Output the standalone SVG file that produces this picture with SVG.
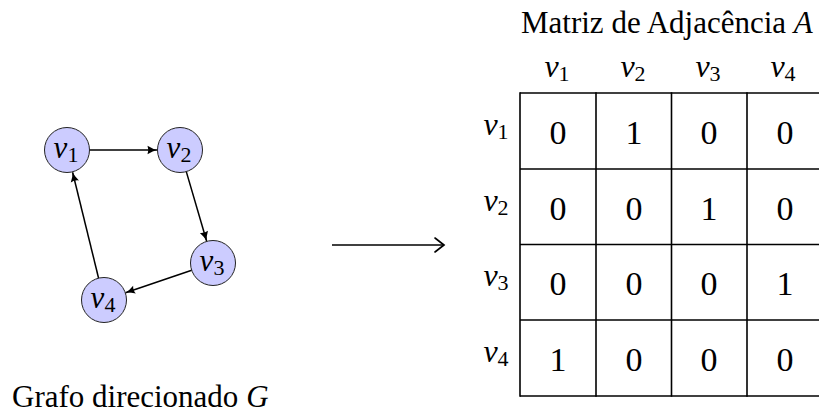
<svg xmlns="http://www.w3.org/2000/svg" width="819" height="415" viewBox="0 0 819 415" font-family="'Liberation Serif', 'Times New Roman', serif">
  <style>
    .node circle { fill: #ccccff; stroke: #222; stroke-width: 1; }
    .edge { stroke: #000; stroke-width: 1.5; fill: none; }
    .grid line { stroke: #000; stroke-width: 1.6; }
  </style>
  <defs>
    <marker id="tip" markerUnits="userSpaceOnUse" viewBox="-10 -5 11 10" refX="0" refY="0" markerWidth="11" markerHeight="10" orient="auto">
      <path d="M -9.5 -4.2 Q -4 -0.8 0 0 Q -4 0.8 -9.5 4.2 Q -7.8 0 -9.5 -4.2 Z" fill="#000"/>
    </marker>
    <marker id="open" markerUnits="userSpaceOnUse" viewBox="-11 -8 13 16" refX="0" refY="0" markerWidth="13" markerHeight="16" orient="auto">
      <path d="M -9 -7 Q -2 -1.5 0 0 Q -2 1.5 -9 7" fill="none" stroke="#000" stroke-width="1.6" stroke-linecap="round"/>
    </marker>
  </defs>

  <!-- directed graph G -->
  <g id="edges">
    <line class="edge" x1="89.5" y1="150" x2="157" y2="150" marker-end="url(#tip)"/>
    <line class="edge" x1="186.3" y1="171.6" x2="206.6" y2="241" marker-end="url(#tip)"/>
    <line class="edge" x1="191.7" y1="270.2" x2="125.5" y2="292.7" marker-end="url(#tip)"/>
    <line class="edge" x1="98.6" y1="278.2" x2="72.6" y2="172.2" marker-end="url(#tip)"/>
  </g>

  <g font-size="31" font-style="italic" text-anchor="middle">
    <g id="v1" class="node">
      <circle cx="67" cy="150" r="22.5"/>
      <text x="66" y="158">v<tspan font-style="normal" font-size="22" dy="4">1</tspan></text>
    </g>
    <g id="v2" class="node">
      <circle cx="180" cy="150" r="22.5"/>
      <text x="179" y="158">v<tspan font-style="normal" font-size="22" dy="4">2</tspan></text>
    </g>
    <g id="v3" class="node">
      <circle cx="213" cy="263" r="22.5"/>
      <text x="212" y="271">v<tspan font-style="normal" font-size="22" dy="4">3</tspan></text>
    </g>
    <g id="v4" class="node">
      <circle cx="104" cy="300" r="22.5"/>
      <text x="103" y="308">v<tspan font-style="normal" font-size="22" dy="4">4</tspan></text>
    </g>
  </g>

  <text id="graph-caption" x="12" y="407" font-size="31">Grafo direcionado <tspan font-style="italic">G</tspan></text>

  <!-- mapping arrow -->
  <g id="map-arrow">
    <line class="edge" x1="332" y1="245" x2="444" y2="245" stroke-width="1.6" marker-end="url(#open)"/>
  </g>

  <!-- adjacency matrix A -->
  <g id="matrix">
    <text x="521" y="33" font-size="31">Matriz de Adjacência <tspan font-style="italic">A</tspan></text>

    <g id="col-headers" font-size="32" font-style="italic" text-anchor="middle">
      <text x="557" y="77">v<tspan font-style="normal" font-size="22" dy="4">1</tspan></text>
      <text x="633" y="77">v<tspan font-style="normal" font-size="22" dy="4">2</tspan></text>
      <text x="708" y="77">v<tspan font-style="normal" font-size="22" dy="4">3</tspan></text>
      <text x="783" y="77">v<tspan font-style="normal" font-size="22" dy="4">4</tspan></text>
    </g>
    <g id="row-headers" font-size="32" font-style="italic" text-anchor="middle">
      <text x="496" y="135">v<tspan font-style="normal" font-size="22" dy="4">1</tspan></text>
      <text x="496" y="211">v<tspan font-style="normal" font-size="22" dy="4">2</tspan></text>
      <text x="496" y="286">v<tspan font-style="normal" font-size="22" dy="4">3</tspan></text>
      <text x="496" y="362">v<tspan font-style="normal" font-size="22" dy="4">4</tspan></text>
    </g>

    <g class="grid">
      <line x1="520" y1="93" x2="819" y2="93"/>
      <line x1="520" y1="169" x2="819" y2="169"/>
      <line x1="520" y1="244.5" x2="819" y2="244.5"/>
      <line x1="520" y1="320" x2="819" y2="320"/>
      <line x1="520" y1="396" x2="819" y2="396"/>
      <line x1="520" y1="92.2" x2="520" y2="396.8"/>
      <line x1="596" y1="92.2" x2="596" y2="396.8"/>
      <line x1="671.5" y1="92.2" x2="671.5" y2="396.8"/>
      <line x1="747" y1="92.2" x2="747" y2="396.8"/>
    </g>

    <g font-size="34" text-anchor="middle">
      <text x="558" y="144">0</text><text x="634" y="144">1</text><text x="709" y="144">0</text><text x="785" y="144">0</text>
      <text x="558" y="219.5">0</text><text x="634" y="219.5">0</text><text x="709" y="219.5">1</text><text x="785" y="219.5">0</text>
      <text x="558" y="295">0</text><text x="634" y="295">0</text><text x="709" y="295">0</text><text x="785" y="295">1</text>
      <text x="558" y="370.5">1</text><text x="634" y="370.5">0</text><text x="709" y="370.5">0</text><text x="785" y="370.5">0</text>
    </g>
  </g>
</svg>
